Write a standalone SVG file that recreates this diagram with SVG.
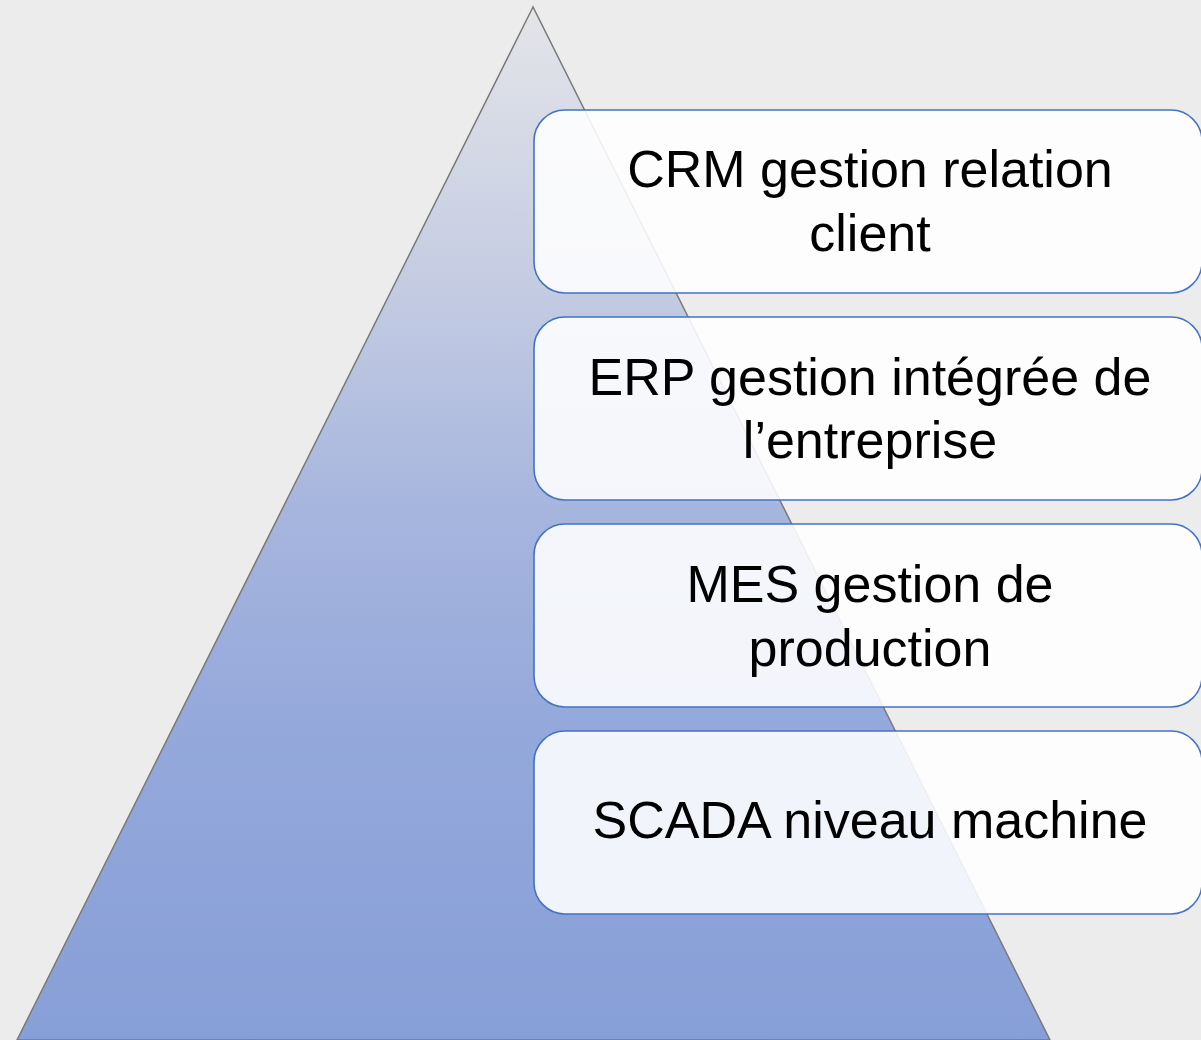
<svg xmlns="http://www.w3.org/2000/svg" width="1201" height="1040" viewBox="0 0 1201 1040">
<defs>
<linearGradient id="pg" x1="0" y1="7" x2="0" y2="1040" gradientUnits="userSpaceOnUse">
<stop offset="0" stop-color="#e4e5e9"/>
<stop offset="0.28" stop-color="#c3cbe2"/>
<stop offset="0.48" stop-color="#a7b6de"/>
<stop offset="0.7" stop-color="#94a8db"/>
<stop offset="1" stop-color="#879fd7"/>
</linearGradient>
<style>
.box{fill:#ffffff;fill-opacity:0.88;stroke:#4472c4;stroke-width:1.6}
.t{font-family:"Liberation Sans",Arial,sans-serif;font-size:52px;fill:#000;text-anchor:middle}
</style>
</defs>
<rect width="1201" height="1040" fill="#ececec"/>
<g id="pyramid">
<polygon points="533,7 17,1040 1050,1040" fill="url(#pg)" stroke="#7a7a7a" stroke-width="1.5"/>
</g>
<g id="connectors"></g>
<g id="crm">
<rect class="box" x="534" y="110" width="668" height="183" rx="31"/>
<text class="t" x="870" y="187">CRM gestion relation</text>
<text class="t" x="870" y="251">client</text>
</g>
<g id="erp">
<rect class="box" x="534" y="317" width="668" height="183" rx="31"/>
<text class="t" x="870" y="395">ERP gestion intégrée de</text>
<text class="t" x="870" y="458">l’entreprise</text>
</g>
<g id="mes">
<rect class="box" x="534" y="524" width="668" height="183" rx="31"/>
<text class="t" x="870" y="602">MES gestion de</text>
<text class="t" x="870" y="666">production</text>
</g>
<g id="scada">
<rect class="box" x="534" y="731" width="668" height="183" rx="31"/>
<text class="t" x="870" y="838">SCADA niveau machine</text>
</g>
</svg>
